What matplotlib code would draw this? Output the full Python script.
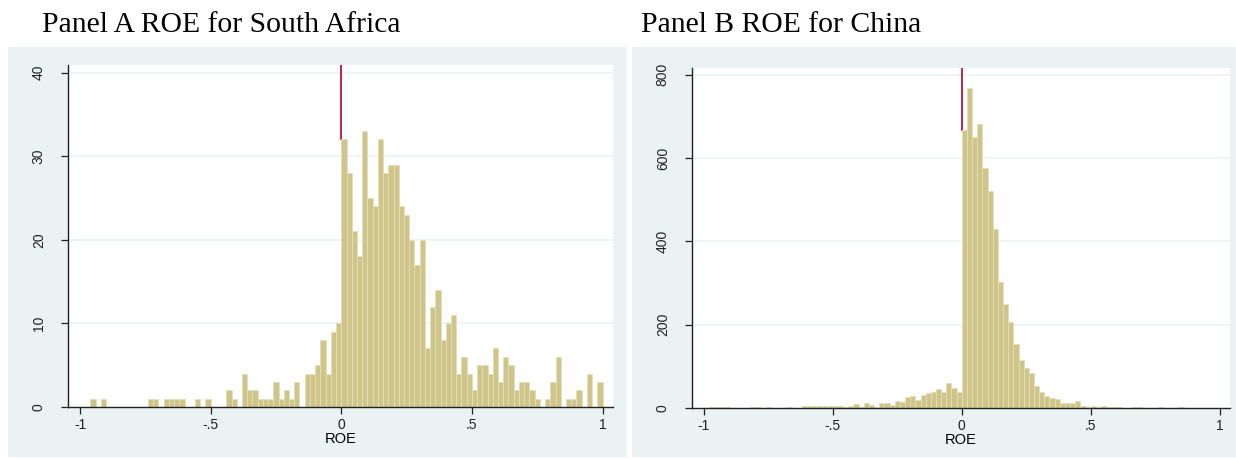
import numpy as np
import matplotlib
matplotlib.use("Agg")
import matplotlib.pyplot as plt
from matplotlib.patches import Rectangle

# ROE histograms, bin width 0.02 on [-1, 1)
bin_edges = np.round(np.arange(-1.0, 1.0001, 0.02), 2)

sa_counts_neg = [0, 0, 1, 0, 1, 0, 0, 0, 0, 0,
                 0, 0, 0, 1, 1, 0, 1, 1, 1, 1,
                 0, 0, 1, 0, 1, 0, 0, 0, 2, 1,
                 0, 4, 2, 2, 1, 1, 1, 3, 1, 2,
                 1, 3, 0, 4, 4, 5, 8, 4, 9, 10]
sa_counts_pos = [32, 28, 21, 18, 33, 25, 24, 32, 28, 29,
                 29, 24, 23, 20, 17, 20, 7, 12, 14, 8,
                 10, 11, 4, 6, 4, 2, 5, 5, 4, 7,
                 3, 6, 5, 2, 3, 3, 2, 1, 0, 1,
                 3, 6, 0, 1, 1, 2, 0, 4, 0, 3]

cn_counts_neg = [1, 3, 2, 3, 2, 1, 0, 1, 1, 3,
                 3, 1, 3, 1, 0, 1, 3, 1, 1, 4,
                 5, 5, 4, 5, 4, 4, 4, 3, 5, 10,
                 2, 11, 8, 3, 11, 11, 8, 16, 14, 27,
                 29, 19, 32, 35, 38, 46, 38, 59, 49, 39]
cn_counts_pos = [667, 767, 650, 682, 575, 521, 429, 302, 250, 206,
                 153, 115, 95, 83, 54, 38, 28, 23, 22, 11,
                 11, 11, 16, 6, 3, 5, 3, 5, 2, 2,
                 2, 1, 1, 2, 2, 1, 1, 1, 2, 1,
                 1, 1, 2, 1, 0, 0, 0, 0, 0, 0]

x_ticks = [-1, -0.5, 0, 0.5, 1]
x_tick_labels = ["-1", "-.5", "0", ".5", "1"]
sa_y_ticks = [0, 10, 20, 30, 40]
cn_y_ticks = [0, 200, 400, 600, 800]

titles = ["Panel A ROE for South Africa", "Panel B ROE for China"]

BG = "#EAF2F3"
BAR = "#CFC58B"
BAR_EDGE = "#E4DFB6"
LINE = "#B8143E"

W, H = 1236, 459
fig = plt.figure(figsize=(W / 100, H / 100), dpi=100)
fig.patch.set_facecolor("white")

# graph regions (pixel boxes converted to figure fractions)
for (x0, x1) in [(8, 627), (632, 1236)]:
    fig.patches.append(Rectangle((x0 / W, 2 / H), (x1 - x0) / W, 410 / H,
                                 transform=fig.transFigure, facecolor=BG,
                                 edgecolor="none", zorder=-5))

def px_axes(l, r, t, b):
    ax = fig.add_axes([l / W, (H - b) / H, (r - l) / W, (b - t) / H])
    ax.set_zorder(2)
    return ax

axA = px_axes(68, 613, 65, 407)
axB = px_axes(692, 1230, 68, 408)

panels = [
    (axA, sa_counts_neg, sa_counts_pos, sa_y_ticks, 40.9),
    (axB, cn_counts_neg, cn_counts_pos, cn_y_ticks, 816),
]

for ax, neg, pos, yt, ytop in panels:
    counts = neg + pos
    ax.set_facecolor("white")
    # reference line at ROE = 0, sitting behind the bar that starts there
    ax.axvline(0, ymin=pos[0] / ytop, color=LINE, lw=1.3, zorder=1)
    ax.bar(bin_edges[:-1], counts, width=0.02, align="edge",
           color=BAR, edgecolor=BAR_EDGE, linewidth=0.6, zorder=2)
    ax.set_xlim(-1.046, 1.04)
    ax.set_ylim(0, ytop)
    for v in yt[1:]:
        ax.axhline(v, color=BG, lw=1.1, zorder=0.5)
    ax.set_xticks(x_ticks)
    ax.set_xticklabels(x_tick_labels, fontfamily="Liberation Sans", fontsize=10)
    ax.set_yticks(yt)
    ax.set_yticklabels([str(v) for v in yt], rotation=90, va="center",
                       fontfamily="Liberation Sans", fontsize=10)
    ax.tick_params(axis="y", length=5, width=0.9, pad=11, colors="#222222")
    ax.tick_params(axis="x", length=5, width=0.9, pad=3, colors="#222222")
    for s in ["top", "right"]:
        ax.spines[s].set_visible(False)
    for s in ["left", "bottom"]:
        ax.spines[s].set_linewidth(1.0)
        ax.spines[s].set_color("#222222")
    ax.set_xlabel("ROE", fontfamily="Liberation Sans", fontsize=10.5, labelpad=0)

fig.text(42 / W, 1 - 25 / H, titles[0], fontfamily="Liberation Serif",
         fontsize=21.3, va="center", ha="left")
fig.text(641 / W, 1 - 25 / H, titles[1], fontfamily="Liberation Serif",
         fontsize=21.3, va="center", ha="left")

fig.savefig("out.png", dpi=100)
